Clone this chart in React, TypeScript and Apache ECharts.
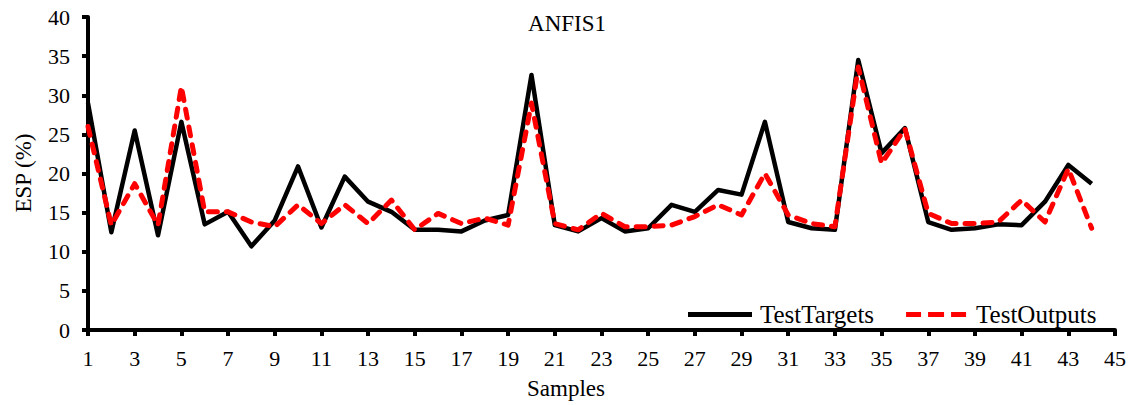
import React, { useEffect, useRef } from "react";
import * as echarts from "echarts";

const categories: string[] = Array.from({ length: 45 }, (_, i) => String(i + 1));

const testTargets: number[] = [
  29.0, 12.5, 25.5, 12.1, 26.6, 13.5, 15.1, 10.7, 14.0, 20.9,
  13.1, 19.6, 16.4, 15.1, 12.8, 12.8, 12.6, 14.0, 14.7, 32.6,
  13.4, 12.6, 14.3, 12.6, 13.0, 16.0, 15.1, 17.9, 17.3, 26.6,
  13.8, 13.0, 12.8, 34.5, 22.6, 25.8, 13.8, 12.8, 13.0, 13.5,
  13.4, 16.4, 21.1, 18.7,
];

const testOutputs: number[] = [
  26.0, 13.4, 18.7, 13.4, 31.1, 15.1, 15.1, 13.8, 13.2, 16.0,
  13.6, 16.0, 13.6, 16.6, 12.8, 14.9, 13.6, 14.3, 13.4, 29.0,
  13.6, 12.8, 14.9, 13.2, 13.2, 13.4, 14.5, 16.0, 14.7, 20.0,
  14.7, 13.6, 13.2, 33.6, 21.3, 25.7, 14.9, 13.6, 13.6, 13.8,
  16.6, 13.8, 20.6, 13.0,
];

const FONT = '"Liberation Serif", "Times New Roman", serif';

export default function App() {
  const ref = useRef<HTMLDivElement>(null);

  useEffect(() => {
    document.body.style.margin = "0";
    const chart = echarts.init(ref.current!, null, { renderer: "svg" });
    chart.setOption({
      animation: false,
      backgroundColor: "#ffffff",
      grid: { left: 88, right: 19, top: 17, bottom: 75, containLabel: false },
      legend: {
        data: [
          { name: "TestTargets", icon: "path://M0,0h64v5h-64z" },
          { name: "TestOutputs", icon: "path://M0,0h15v5h-15z M22,0h16v5h-16z M45,0h15v5h-15z" },
        ],
        left: 688,
        top: 302,
        padding: 0,
        itemWidth: 64,
        itemHeight: 5,
        itemGap: 32,
        textStyle: { fontFamily: FONT, fontSize: 25, color: "#000", padding: [0, 0, 0, 3] },
      },
      xAxis: {
        type: "category",
        data: categories,
        boundaryGap: false,
        axisLine: { lineStyle: { color: "#000", width: 4 } },
        axisTick: { interval: 1, length: 6, lineStyle: { color: "#000", width: 4 } },
        axisLabel: { interval: 1, margin: 17, fontFamily: FONT, fontSize: 22, color: "#000" },
        splitLine: { show: false },
      },
      yAxis: {
        type: "value",
        min: 0,
        max: 40,
        interval: 5,
        axisLine: { show: true, lineStyle: { color: "#000", width: 4 } },
        axisTick: { show: true, length: 6, lineStyle: { color: "#000", width: 4 } },
        axisLabel: { margin: 18, fontFamily: FONT, fontSize: 22, color: "#000" },
        splitLine: { show: false },
      },
      graphic: [
        {
          type: "text",
          x: 567,
          y: 23,
          style: { text: "ANFIS1", font: `23px ${FONT}`, fill: "#000", align: "center", verticalAlign: "middle" },
        },
        {
          type: "text",
          x: 566,
          y: 388,
          style: { text: "Samples", font: `23px ${FONT}`, fill: "#000", align: "center", verticalAlign: "middle" },
        },
        {
          type: "text",
          x: 23,
          y: 173,
          rotation: Math.PI / 2,
          style: { text: "ESP (%)", font: `23px ${FONT}`, fill: "#000", align: "center", verticalAlign: "middle" },
        },
      ],
      series: [
        {
          name: "TestTargets",
          type: "line",
          data: testTargets,
          symbol: "none",
          lineStyle: { color: "#000", width: 4.5, join: "round" },
          itemStyle: { color: "#000" },
        },
        {
          name: "TestOutputs",
          type: "line",
          data: testOutputs,
          symbol: "none",
          lineStyle: { color: "#ff0000", width: 5, type: [9, 9], cap: "round", join: "round" },
          itemStyle: { color: "#ff0000" },
        },
      ],
    });
    return () => chart.dispose();
  }, []);

  return <div ref={ref} style={{ width: 1134, height: 405 }} />;
}
